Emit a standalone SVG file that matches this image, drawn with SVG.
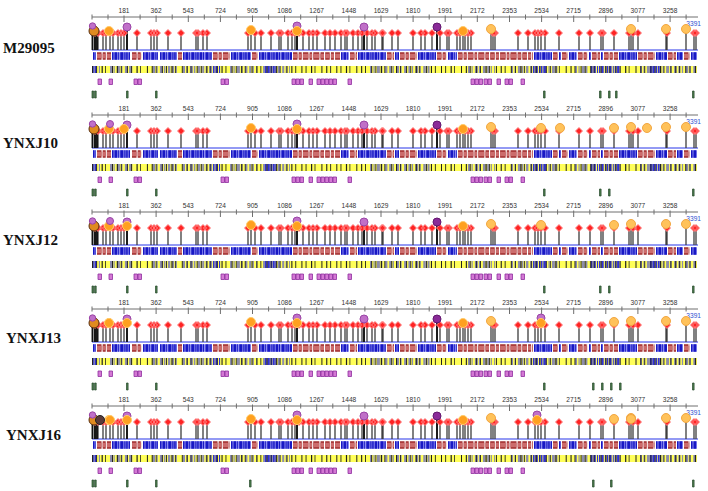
<svg xmlns="http://www.w3.org/2000/svg" xmlns:xlink="http://www.w3.org/1999/xlink" width="708" height="491" viewBox="0 0 708 491">
<defs>
<style>
.name{font-family:"Liberation Serif","Times New Roman",serif;font-weight:bold;font-size:15px;fill:#111}
.tk{font-family:"Liberation Sans",Arial,sans-serif;font-size:6.6px;fill:#333;text-anchor:middle}
.end{font-family:"Liberation Sans",Arial,sans-serif;font-size:6.6px;fill:#2f4fd0;text-anchor:end}
.ax{stroke:#6e6e6e;stroke-width:1;fill:none}
.stem{stroke:#3e3e3e;stroke-width:1.3;fill:none}
.bstem{stroke:#111;stroke-width:1.9;fill:none}
.dia{fill:#ff2424;stroke:#ff8c8c;stroke-width:1}
.base{stroke:#6f78f0;stroke-width:1.4}
.org{fill:#ffa020;stroke:#ffcc6a;stroke-width:1}
.porg{fill:#ffc25a;stroke:#f2a640;stroke-width:1}
.pur{fill:#c070c8;stroke:#9a44a6;stroke-width:1}
.dpur{fill:#8a2a98;stroke:#63176f;stroke-width:1}
.redo{stroke:#a02c2c;stroke-width:7.5;fill:none;stroke-dasharray:4.5 1.2 3 1.2 5.5 1.2 2.5 1.2 6 1.2 3.5 1.2}
.redi{stroke:#cc6c6c;stroke-width:4.5;fill:none;stroke-dasharray:4.5 1.2 3 1.2 5.5 1.2 2.5 1.2 6 1.2 3.5 1.2}
.blb{stroke:#8c8cf0;stroke-width:7.5;fill:none}
.bld{stroke:#1818c4;stroke-width:7.5;fill:none;stroke-dasharray:1.5 1 2.5 0.8 1 1.5 3 1 1.2 0.7}
.yel{fill:#ffff58}
.gry{stroke:#8c8cab;stroke-width:7;fill:none;stroke-dasharray:2 1.5 1.2 2.2 3 1 1.5 2.5 2.5 1.8}
.blu{stroke:#3030d8;stroke-width:7;fill:none;stroke-dasharray:1.6 0.8 2.4 1.2 1 0.9}
.blk{stroke:#222;stroke-width:7;fill:none;stroke-dasharray:1 3.2 0.9 4.5 1.2 2.4 0.8 6 1 3.8 1.1 2.9 0.9 5.2}
.pbox{fill:#d478d4;stroke:#8e2e9e;stroke-width:0.8}
.grn{fill:#4f7f4f;stroke:#24482a;stroke-width:0.7}
</style>
<g id="axis">
<path class="ax" d="M92,17H698"/>
<path class="ax" d="M124,15.5V22M156.1,15.5V22M188.3,15.5V22M220.4,15.5V22M252.5,15.5V22M284.6,15.5V22M316.7,15.5V22M348.9,15.5V22M381,15.5V22M413.1,15.5V22M445.2,15.5V22M477.3,15.5V22M509.5,15.5V22M541.6,15.5V22M573.7,15.5V22M605.8,15.5V22M637.9,15.5V22M670.1,15.5V22"/>
<path class="ax" d="M92,14.5V19.5M108,14.5V19.5M140.1,14.5V19.5M172.2,14.5V19.5M204.3,14.5V19.5M236.4,14.5V19.5M268.6,14.5V19.5M300.7,14.5V19.5M332.8,14.5V19.5M364.9,14.5V19.5M397,14.5V19.5M429.2,14.5V19.5M461.3,14.5V19.5M493.4,14.5V19.5M525.5,14.5V19.5M557.6,14.5V19.5M589.8,14.5V19.5M621.9,14.5V19.5M654,14.5V19.5M686.1,14.5V19.5"/>
</g>
<g id="lp">
<path class="base" d="M92,50H698"/>
<path class="stem" d="M95,33V50M98,33V50M103,33V50M106,33V50M110,33V50M113,33V50M118,33V50M121,33V50M124,33V50M137,33V50M151,33V50M154,33V50M157,33V50M168,33V50M181,33V50M196,33V50M198,33V50M203,33V50M207,33V50M248,33V50M251,33V50M255,33V50M261,33V50M271,33V50M279,33V50M281,33V50M288,33V50M292,33V50M295,33V50M303,33V50M309,33V50M313,33V50M317,33V50M325,33V50M330,33V50M335,33V50M341,33V50M345,33V50M347,33V50M353,33V50M358,33V50M362,33V50M367,33V50M372,33V50M375,33V50M382,33V50M383,33V50M392,33V50M398,33V50M413,33V50M421,33V50M425,33V50M432,33V50M440,33V50M447,33V50M449,33V50M457,33V50M460,33V50M463,33V50M465,33V50M468,33V50M471,33V50M491,33V50M493,33V50M495,33V50M518,33V50M528,33V50M535,33V50M538,33V50M541,33V50M545,33V50M559,33V50M579,33V50M590,33V50M601,33V50M603,33V50M614,33V50M629,33V50M631,33V50M633,33V50M638,33V50M666,33V50M667,33V50M686,33V50M694,33V50M696,33V50"/>
<path class="bstem" d="M92.5,33V50M95,33V50M97,33V50M127,30V50M297,30V50M364,30V50M437,30V50"/>
<path class="dia" d="M95,29.5l3.5,3.5-3.5,3.5-3.5-3.5zM98,29.5l3.5,3.5-3.5,3.5-3.5-3.5zM103,29.5l3.5,3.5-3.5,3.5-3.5-3.5zM106,29.5l3.5,3.5-3.5,3.5-3.5-3.5zM110,29.5l3.5,3.5-3.5,3.5-3.5-3.5zM113,29.5l3.5,3.5-3.5,3.5-3.5-3.5zM118,29.5l3.5,3.5-3.5,3.5-3.5-3.5zM121,29.5l3.5,3.5-3.5,3.5-3.5-3.5zM124,29.5l3.5,3.5-3.5,3.5-3.5-3.5zM137,29.5l3.5,3.5-3.5,3.5-3.5-3.5zM151,29.5l3.5,3.5-3.5,3.5-3.5-3.5zM154,29.5l3.5,3.5-3.5,3.5-3.5-3.5zM157,29.5l3.5,3.5-3.5,3.5-3.5-3.5zM168,29.5l3.5,3.5-3.5,3.5-3.5-3.5zM181,29.5l3.5,3.5-3.5,3.5-3.5-3.5zM196,29.5l3.5,3.5-3.5,3.5-3.5-3.5zM198,29.5l3.5,3.5-3.5,3.5-3.5-3.5zM203,29.5l3.5,3.5-3.5,3.5-3.5-3.5zM207,29.5l3.5,3.5-3.5,3.5-3.5-3.5zM248,29.5l3.5,3.5-3.5,3.5-3.5-3.5zM255,29.5l3.5,3.5-3.5,3.5-3.5-3.5zM261,29.5l3.5,3.5-3.5,3.5-3.5-3.5zM271,29.5l3.5,3.5-3.5,3.5-3.5-3.5zM279,29.5l3.5,3.5-3.5,3.5-3.5-3.5zM281,29.5l3.5,3.5-3.5,3.5-3.5-3.5zM288,29.5l3.5,3.5-3.5,3.5-3.5-3.5zM292,29.5l3.5,3.5-3.5,3.5-3.5-3.5zM295,29.5l3.5,3.5-3.5,3.5-3.5-3.5zM299,29.5l3.5,3.5-3.5,3.5-3.5-3.5zM303,29.5l3.5,3.5-3.5,3.5-3.5-3.5zM309,29.5l3.5,3.5-3.5,3.5-3.5-3.5zM313,29.5l3.5,3.5-3.5,3.5-3.5-3.5zM317,29.5l3.5,3.5-3.5,3.5-3.5-3.5zM325,29.5l3.5,3.5-3.5,3.5-3.5-3.5zM330,29.5l3.5,3.5-3.5,3.5-3.5-3.5zM335,29.5l3.5,3.5-3.5,3.5-3.5-3.5zM341,29.5l3.5,3.5-3.5,3.5-3.5-3.5zM345,29.5l3.5,3.5-3.5,3.5-3.5-3.5zM347,29.5l3.5,3.5-3.5,3.5-3.5-3.5zM353,29.5l3.5,3.5-3.5,3.5-3.5-3.5zM358,29.5l3.5,3.5-3.5,3.5-3.5-3.5zM362,29.5l3.5,3.5-3.5,3.5-3.5-3.5zM367,29.5l3.5,3.5-3.5,3.5-3.5-3.5zM372,29.5l3.5,3.5-3.5,3.5-3.5-3.5zM375,29.5l3.5,3.5-3.5,3.5-3.5-3.5zM382,29.5l3.5,3.5-3.5,3.5-3.5-3.5zM383,29.5l3.5,3.5-3.5,3.5-3.5-3.5zM392,29.5l3.5,3.5-3.5,3.5-3.5-3.5zM398,29.5l3.5,3.5-3.5,3.5-3.5-3.5zM413,29.5l3.5,3.5-3.5,3.5-3.5-3.5zM421,29.5l3.5,3.5-3.5,3.5-3.5-3.5zM425,29.5l3.5,3.5-3.5,3.5-3.5-3.5zM432,29.5l3.5,3.5-3.5,3.5-3.5-3.5zM440,29.5l3.5,3.5-3.5,3.5-3.5-3.5zM447,29.5l3.5,3.5-3.5,3.5-3.5-3.5zM449,29.5l3.5,3.5-3.5,3.5-3.5-3.5zM457,29.5l3.5,3.5-3.5,3.5-3.5-3.5zM460,29.5l3.5,3.5-3.5,3.5-3.5-3.5zM465,29.5l3.5,3.5-3.5,3.5-3.5-3.5zM468,29.5l3.5,3.5-3.5,3.5-3.5-3.5zM471,29.5l3.5,3.5-3.5,3.5-3.5-3.5zM493,29.5l3.5,3.5-3.5,3.5-3.5-3.5zM495,29.5l3.5,3.5-3.5,3.5-3.5-3.5zM518,29.5l3.5,3.5-3.5,3.5-3.5-3.5zM528,29.5l3.5,3.5-3.5,3.5-3.5-3.5zM535,29.5l3.5,3.5-3.5,3.5-3.5-3.5zM538,29.5l3.5,3.5-3.5,3.5-3.5-3.5zM541,29.5l3.5,3.5-3.5,3.5-3.5-3.5zM545,29.5l3.5,3.5-3.5,3.5-3.5-3.5zM559,29.5l3.5,3.5-3.5,3.5-3.5-3.5zM579,29.5l3.5,3.5-3.5,3.5-3.5-3.5zM590,29.5l3.5,3.5-3.5,3.5-3.5-3.5zM601,29.5l3.5,3.5-3.5,3.5-3.5-3.5zM603,29.5l3.5,3.5-3.5,3.5-3.5-3.5zM614,29.5l3.5,3.5-3.5,3.5-3.5-3.5zM629,29.5l3.5,3.5-3.5,3.5-3.5-3.5zM633,29.5l3.5,3.5-3.5,3.5-3.5-3.5zM638,29.5l3.5,3.5-3.5,3.5-3.5-3.5zM667,29.5l3.5,3.5-3.5,3.5-3.5-3.5zM694,29.5l3.5,3.5-3.5,3.5-3.5-3.5zM696,29.5l3.5,3.5-3.5,3.5-3.5-3.5z"/>
<circle cx="94" cy="31" r="5" fill="#e08a20" stroke="#5a3010" stroke-width="1"/>
<circle class="pur" cx="92.5" cy="26" r="3.2"/>
<circle class="org" cx="109" cy="31" r="4.5"/>
<circle class="pur" cx="127" cy="27" r="4"/>
<circle class="org" cx="251" cy="30" r="4.5"/>
<circle class="pur" cx="297" cy="26" r="4"/>
<circle class="org" cx="297" cy="31" r="4.5"/>
<circle class="pur" cx="364" cy="27" r="4"/>
<circle class="dpur" cx="437" cy="27" r="4"/>
<circle class="org" cx="463" cy="31" r="4.5"/>
<circle class="porg" cx="491" cy="29" r="4.5"/>
<circle class="porg" cx="631" cy="29" r="4.5"/>
<circle class="porg" cx="666" cy="29" r="4.5"/>
<circle class="porg" cx="686" cy="29" r="4.5"/>
</g>
<g id="row2">
<path class="blb" d="M93,56H96M112,56H130M143,56H158M160,56H177M183,56H212M231,56H251M259,56H292M341,56H349M358,56H386M395,56H399M418,56H436M448,56H457M534,56H552M559,56H561M569,56H577M589,56H591M601,56H603M619,56H637M656,56H667M677,56H683M691,56H697"/>
<path class="bld" d="M93,56H96M112,56H130M143,56H158M160,56H177M183,56H212M231,56H251M259,56H292M341,56H349M358,56H386M395,56H399M418,56H436M448,56H457M534,56H552M559,56H561M569,56H577M589,56H591M601,56H603M619,56H637M656,56H667M677,56H683M691,56H697"/>
<path class="redo" d="M97,56H111M132,56H142M178,56H182M213,56H230M252,56H258M293,56H340M350,56H357M387,56H394M400,56H417M437,56H447M458,56H533M553,56H558M562,56H568M578,56H588M592,56H600M604,56H618M638,56H655M668,56H676M684,56H690"/>
<path class="redi" d="M97,56H111M132,56H142M178,56H182M213,56H230M252,56H258M293,56H340M350,56H357M387,56H394M400,56H417M437,56H447M458,56H533M553,56H558M562,56H568M578,56H588M592,56H600M604,56H618M638,56H655M668,56H676M684,56H690"/>
</g>
<g id="row3">
<rect class="yel" x="92" y="66" width="605" height="7"/>
<path class="gry" d="M92,69.5H100M110,69.5H133M153,69.5H177M183,69.5H213M230,69.5H257M263,69.5H290M370,69.5H430M468,69.5H495M511,69.5H533M545,69.5H560M575,69.5H590M640,69.5H697"/>
<path class="blu" d="M92,69.5H97M213,69.5H221M265,69.5H276M533,69.5H546M591,69.5H621M650,69.5H661"/>
<path class="blk" d="M92,69.5H697"/>
</g>
<path id="pb" class="pbox" d="M98,79h3.5v5.5h-3.5zM109,79h3.5v5.5h-3.5zM134,79h3.5v5.5h-3.5zM138,79h3.5v5.5h-3.5zM221,79h3.5v5.5h-3.5zM225,79h3.5v5.5h-3.5zM292,79h3.5v5.5h-3.5zM296,79h3.5v5.5h-3.5zM300,79h3.5v5.5h-3.5zM309,79h3.5v5.5h-3.5zM317,79h3.5v5.5h-3.5zM321,79h3.5v5.5h-3.5zM325,79h3.5v5.5h-3.5zM329,79h3.5v5.5h-3.5zM333,79h3.5v5.5h-3.5zM348,79h3.5v5.5h-3.5zM471,79h3.5v5.5h-3.5zM475,79h3.5v5.5h-3.5zM479,79h3.5v5.5h-3.5zM484,79h3.5v5.5h-3.5zM488,79h3.5v5.5h-3.5zM497,79h3.5v5.5h-3.5zM505,79h3.5v5.5h-3.5zM509,79h3.5v5.5h-3.5zM521,79h3.5v5.5h-3.5z"/>
</defs>

<g id="panel-M29095">
<text class="name" x="3" y="53">M29095</text>
<text class="tk" y="13"><tspan x="124">181</tspan><tspan x="156.1">362</tspan><tspan x="188.3">543</tspan><tspan x="220.4">724</tspan><tspan x="252.5">905</tspan><tspan x="284.6">1086</tspan><tspan x="316.7">1267</tspan><tspan x="348.9">1448</tspan><tspan x="381">1629</tspan><tspan x="413.1">1810</tspan><tspan x="445.2">1991</tspan><tspan x="477.3">2172</tspan><tspan x="509.5">2353</tspan><tspan x="541.6">2534</tspan><tspan x="573.7">2715</tspan><tspan x="605.8">2896</tspan><tspan x="637.9">3077</tspan><tspan x="670.1">3258</tspan></text>
<text class="end" x="701" y="26">3391</text>
<use href="#axis"/>
<use href="#lp"/>
<use href="#row2"/>
<use href="#row3"/>
<use href="#pb"/>
<path class="grn" d="M92,91h1.6v7h-1.6zM94.6,91h1.6v7h-1.6zM126.5,91h1.6v7h-1.6zM155.5,91h1.6v7h-1.6zM543.5,91h1.6v7h-1.6zM599.5,91h1.6v7h-1.6zM608.5,91h1.6v7h-1.6zM615.5,91h1.6v7h-1.6zM692.5,91h1.6v7h-1.6z"/>
</g>

<g id="panel-YNXJ10" transform="translate(0,98)">
<text class="name" x="3" y="50">YNXJ10</text>
<text class="tk" y="13"><tspan x="124">181</tspan><tspan x="156.1">362</tspan><tspan x="188.3">543</tspan><tspan x="220.4">724</tspan><tspan x="252.5">905</tspan><tspan x="284.6">1086</tspan><tspan x="316.7">1267</tspan><tspan x="348.9">1448</tspan><tspan x="381">1629</tspan><tspan x="413.1">1810</tspan><tspan x="445.2">1991</tspan><tspan x="477.3">2172</tspan><tspan x="509.5">2353</tspan><tspan x="541.6">2534</tspan><tspan x="573.7">2715</tspan><tspan x="605.8">2896</tspan><tspan x="637.9">3077</tspan><tspan x="670.1">3258</tspan></text>
<text class="end" x="701" y="26">3391</text>
<use href="#axis"/>
<use href="#lp"/>
<circle class="org" cx="109" cy="31" r="4.5"/><circle class="pur" cx="110" cy="26" r="3.5"/><circle class="org" cx="124" cy="31" r="4.5"/>
<circle class="porg" cx="541" cy="30" r="4.5"/><circle class="porg" cx="560" cy="30" r="4.5"/><circle class="porg" cx="614" cy="30" r="4.5"/><circle class="porg" cx="647" cy="30" r="4.5"/>
<use href="#row2"/>
<use href="#row3"/>
<use href="#pb"/>
<path class="grn" d="M92,91h1.6v7h-1.6zM94.6,91h1.6v7h-1.6zM126.5,91h1.6v7h-1.6zM155.5,91h1.6v7h-1.6zM543.5,91h1.6v7h-1.6zM599.5,91h1.6v7h-1.6zM608.5,91h1.6v7h-1.6zM692.5,91h1.6v7h-1.6z"/>
</g>

<g id="panel-YNXJ12" transform="translate(0,195)">
<text class="name" x="3" y="50">YNXJ12</text>
<text class="tk" y="13"><tspan x="124">181</tspan><tspan x="156.1">362</tspan><tspan x="188.3">543</tspan><tspan x="220.4">724</tspan><tspan x="252.5">905</tspan><tspan x="284.6">1086</tspan><tspan x="316.7">1267</tspan><tspan x="348.9">1448</tspan><tspan x="381">1629</tspan><tspan x="413.1">1810</tspan><tspan x="445.2">1991</tspan><tspan x="477.3">2172</tspan><tspan x="509.5">2353</tspan><tspan x="541.6">2534</tspan><tspan x="573.7">2715</tspan><tspan x="605.8">2896</tspan><tspan x="637.9">3077</tspan><tspan x="670.1">3258</tspan></text>
<text class="end" x="701" y="26">3391</text>
<use href="#axis"/>
<use href="#lp"/>
<circle class="org" cx="109" cy="31" r="4.5"/><circle class="pur" cx="110" cy="26" r="3.5"/><circle class="org" cx="127" cy="31" r="4.5"/>
<circle class="porg" cx="541" cy="30" r="4.5"/><circle class="porg" cx="614" cy="30" r="4.5"/>
<use href="#row2"/>
<use href="#row3"/>
<use href="#pb"/>
<path class="grn" d="M92,91h1.6v7h-1.6zM94.6,91h1.6v7h-1.6zM126.5,91h1.6v7h-1.6zM155.5,91h1.6v7h-1.6zM543.5,91h1.6v7h-1.6zM599.5,91h1.6v7h-1.6zM608.5,91h1.6v7h-1.6zM692.5,91h1.6v7h-1.6z"/>
</g>

<g id="panel-YNXJ13" transform="translate(0,292)">
<text class="name" x="6" y="51">YNXJ13</text>
<text class="tk" y="13"><tspan x="124">181</tspan><tspan x="156.1">362</tspan><tspan x="188.3">543</tspan><tspan x="220.4">724</tspan><tspan x="252.5">905</tspan><tspan x="284.6">1086</tspan><tspan x="316.7">1267</tspan><tspan x="348.9">1448</tspan><tspan x="381">1629</tspan><tspan x="413.1">1810</tspan><tspan x="445.2">1991</tspan><tspan x="477.3">2172</tspan><tspan x="509.5">2353</tspan><tspan x="541.6">2534</tspan><tspan x="573.7">2715</tspan><tspan x="605.8">2896</tspan><tspan x="637.9">3077</tspan><tspan x="670.1">3258</tspan></text>
<text class="end" x="701" y="26">3391</text>
<use href="#axis"/>
<use href="#lp"/>
<circle class="org" cx="109" cy="31" r="4.5"/><circle class="org" cx="127" cy="31" r="4.5"/>
<circle class="pur" cx="541" cy="26" r="4"/><circle class="org" cx="541" cy="31" r="4.5"/><circle class="porg" cx="614" cy="30" r="4.5"/>
<use href="#row2"/>
<use href="#row3"/>
<use href="#pb"/>
<path class="grn" d="M92,91h1.6v7h-1.6zM94.6,91h1.6v7h-1.6zM126.5,91h1.6v7h-1.6zM155.5,91h1.6v7h-1.6zM543.5,91h1.6v7h-1.6zM592.5,91h1.6v7h-1.6zM601.5,91h1.6v7h-1.6zM610.5,91h1.6v7h-1.6zM619.5,91h1.6v7h-1.6zM692.5,91h1.6v7h-1.6z"/>
</g>

<g id="panel-YNXJ16" transform="translate(0,389)">
<text class="name" x="6" y="51">YNXJ16</text>
<text class="tk" y="13"><tspan x="124">181</tspan><tspan x="156.1">362</tspan><tspan x="188.3">543</tspan><tspan x="220.4">724</tspan><tspan x="252.5">905</tspan><tspan x="284.6">1086</tspan><tspan x="316.7">1267</tspan><tspan x="348.9">1448</tspan><tspan x="381">1629</tspan><tspan x="413.1">1810</tspan><tspan x="445.2">1991</tspan><tspan x="477.3">2172</tspan><tspan x="509.5">2353</tspan><tspan x="541.6">2534</tspan><tspan x="573.7">2715</tspan><tspan x="605.8">2896</tspan><tspan x="637.9">3077</tspan><tspan x="670.1">3258</tspan></text>
<text class="end" x="701" y="26">3391</text>
<use href="#axis"/>
<use href="#lp"/>
<circle cx="100" cy="31" r="4.5" fill="#5a3a3a" stroke="#222" stroke-width="1"/><circle class="org" cx="110" cy="31" r="4.5"/><circle class="org" cx="127" cy="31" r="4.5"/>
<circle class="pur" cx="537" cy="26" r="4"/><circle class="org" cx="537" cy="31" r="4.5"/><circle class="porg" cx="614" cy="30" r="4.5"/><circle class="porg" cx="631" cy="30" r="4.5"/>
<use href="#row2"/>
<use href="#row3"/>
<use href="#pb"/>
<path class="grn" d="M92,91h1.6v7h-1.6zM94.6,91h1.6v7h-1.6zM126.5,91h1.6v7h-1.6zM155.5,91h1.6v7h-1.6zM249.5,91h1.6v7h-1.6zM592.5,91h1.6v7h-1.6zM610.5,91h1.6v7h-1.6zM692.5,91h1.6v7h-1.6z"/>
</g>
</svg>
